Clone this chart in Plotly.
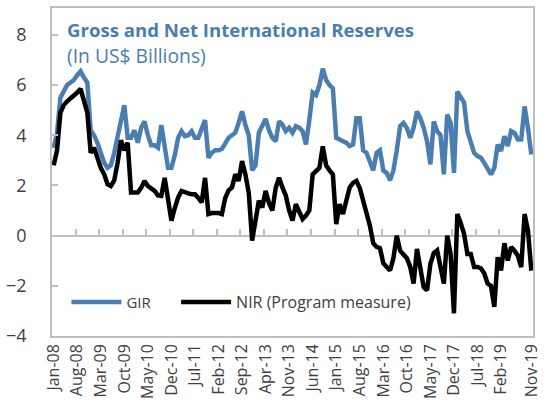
import plotly.graph_objects as go

# Monthly observations Jan-08 .. Nov-19 (143 months), US$ billions
gir = [3.5, 4.1, 5.5, 5.8, 6.0, 6.1, 6.2, 6.4, 6.55, 6.3,
       6.1, 4.2, 4.0, 3.7, 3.3, 2.9, 2.7, 2.8, 3.3, 3.9,
       4.6, 5.2, 3.9, 3.9, 4.2, 3.7, 4.3, 4.55, 4.0, 3.6,
       3.6, 3.5, 4.4, 3.6, 2.7, 2.7, 3.2, 3.9, 4.16, 3.96,
       4.0, 4.16, 3.9, 3.9, 4.3, 4.6, 3.1, 3.3, 3.4, 3.4,
       3.45, 3.7, 3.9, 4.0, 4.1, 4.5, 4.95, 4.4, 4.0, 2.6,
       2.8, 4.1, 4.4, 4.65, 4.2, 3.9, 3.76, 4.55, 4.42, 4.16,
       4.3, 4.1, 4.36, 4.3, 4.16, 3.63, 4.6, 5.7, 5.6, 6.0,
       6.65, 6.2, 6.0, 5.87, 3.9, 3.85, 3.76, 3.7, 3.57, 3.63,
       4.68, 4.68, 3.4, 3.3, 3.0, 2.6, 3.3, 3.4, 2.6, 2.5,
       2.2, 2.6, 3.4, 4.36, 4.49, 4.29, 3.9, 4.29, 4.95, 4.68,
       4.3, 3.76, 2.84, 4.55, 4.16, 4.0, 2.44, 4.82, 4.5, 2.5,
       5.74, 5.5, 5.3, 4.16, 3.76, 3.3, 3.17, 3.1, 2.9, 2.7,
       2.44, 2.7, 3.63, 3.37, 3.96, 3.57, 4.16, 4.09, 3.83, 3.83,
       5.15, 4.29, 3.23]

nir = [2.8, 3.4, 4.9, 5.2, 5.35, 5.45, 5.55, 5.7, 5.85, 5.35,
       4.9, 3.3, 3.5, 3.1, 2.7, 2.45, 2.05, 1.98, 2.2, 2.9,
       3.8, 3.4, 3.7, 1.72, 1.72, 1.72, 1.9, 2.18, 1.98, 1.9,
       1.78, 1.6, 1.58, 2.3, 1.52, 0.6, 1.1, 1.52, 1.78, 1.72,
       1.68, 1.65, 1.65, 1.5, 1.32, 2.3, 0.86, 0.9, 0.92, 0.9,
       0.86, 1.5, 1.8, 1.92, 2.44, 2.18, 2.97, 2.44, 1.7, -0.2,
       0.6, 1.39, 1.12, 1.78, 1.3, 1.0, 1.9, 2.31, 1.92, 1.6,
       1.0, 0.6, 1.25, 0.9, 0.66, 0.8, 1.0, 2.44, 2.6, 2.7,
       3.56, 2.8, 2.6, 2.44, 0.46, 1.25, 0.86, 1.4, 1.92, 2.1,
       2.18, 1.9, 1.39, 0.9, 0.4, -0.3, -0.45, -0.5, -1.1, -1.25,
       -1.39, -0.9, 0.0, -0.6, -0.73, -0.9, -1.25, -1.91, -0.53, -1.3,
       -2.05, -2.18, -1.12, -0.7, -0.59, -1.25, -1.91, 0.0, -0.73, -3.1,
       0.86, 0.5, 0.07, -0.73, -0.73, -1.25, -1.25, -1.3, -1.5, -1.91,
       -2.0, -2.84, -0.86, -1.39, -0.3, -0.99, -0.46, -0.6, -0.8, -1.25,
       0.86, 0.2, -1.4]

tick_labels = ["Jan-08", "Aug-08", "Mar-09", "Oct-09", "May-10", "Dec-10",
               "Jul-11", "Feb-12", "Sep-12", "Apr-13", "Nov-13", "Jun-14",
               "Jan-15", "Aug-15", "Mar-16", "Oct-16", "May-17", "Dec-17",
               "Jul-18", "Feb-19", "Nov-19"]
tick_positions = list(range(0, 134, 7)) + [142]
boundary_ticks = [6.5 + 7 * k for k in range(20)]

months = list(range(len(gir)))
BLUE = "#4A7EB0"
GREY = "#BFBFBF"
TXT = "#404040"
FONT = "Open Sans"

fig = go.Figure()
fig.add_trace(go.Scatter(x=months, y=gir, mode="lines", name="GIR",
                         line=dict(color=BLUE, width=4.5), legend="legend"))
fig.add_trace(go.Scatter(x=months, y=nir, mode="lines", name="NIR (Program measure)",
                         line=dict(color="#000000", width=4.5), legend="legend2"))
# carrier for the category axis drawn at y = 0
fig.add_trace(go.Scatter(x=[months[0], months[-1]], y=[None, None], xaxis="x2",
                         showlegend=False, hoverinfo="skip", mode="lines"))

ymin, ymax = -4, 9.07
leg_common = dict(orientation="h", y=0.103, yanchor="middle", xanchor="left",
                  bgcolor="rgba(0,0,0,0)", itemwidth=50)
fig.update_layout(
    width=548, height=415,
    margin=dict(l=52, r=9, t=6, b=79),
    paper_bgcolor="white", plot_bgcolor="white",
    font=dict(family=FONT, color=TXT),
    xaxis=dict(range=[-0.5, 142.5], tickvals=tick_positions, ticktext=tick_labels,
               tickangle=-90, ticks="", showgrid=False, zeroline=False,
               showline=True, linecolor=GREY, linewidth=1.5, mirror=True,
               tickfont=dict(size=16, color=TXT, family=FONT)),
    xaxis2=dict(range=[-0.5, 142.5], overlaying="x", anchor="free",
                position=(0 - ymin) / (ymax - ymin), side="top",
                tickvals=boundary_ticks, ticks="outside", ticklen=6,
                tickcolor=GREY, tickwidth=1.5, showticklabels=False,
                showline=True, linecolor=GREY, linewidth=1.5,
                showgrid=False, zeroline=False, layer="below traces"),
    yaxis=dict(range=[ymin, ymax], tickvals=[-4, -2, 0, 2, 4, 6, 8],
               ticks="inside", ticklen=6, tickcolor=GREY, tickwidth=1.5,
               showgrid=False, zeroline=False, showline=True,
               linecolor=GREY, linewidth=1.5, mirror=True,
               ticklabelstandoff=20,
               tickfont=dict(size=18, color=TXT, family=FONT)),
    legend=dict(x=0.03, font=dict(size=15, color=TXT, family=FONT), **leg_common),
    legend2=dict(x=0.258, font=dict(size=16, color=TXT, family=FONT), **leg_common),
    showlegend=True,
    annotations=[
        dict(text="<b>Gross and Net International Reserves</b>", xref="paper",
             yref="paper", x=0.026, y=0.933, xanchor="left", yanchor="middle",
             showarrow=False, font=dict(size=18.6, color=BLUE, family=FONT)),
        dict(text="(In US$ Billions)", xref="paper", yref="paper",
             x=0.026, y=0.856, xanchor="left", yanchor="middle",
             showarrow=False, font=dict(size=19.3, color=BLUE, family=FONT)),
    ],
)

fig.write_html("out.html", config={"displayModeBar": False},
               post_script="document.body.style.margin='0';")
